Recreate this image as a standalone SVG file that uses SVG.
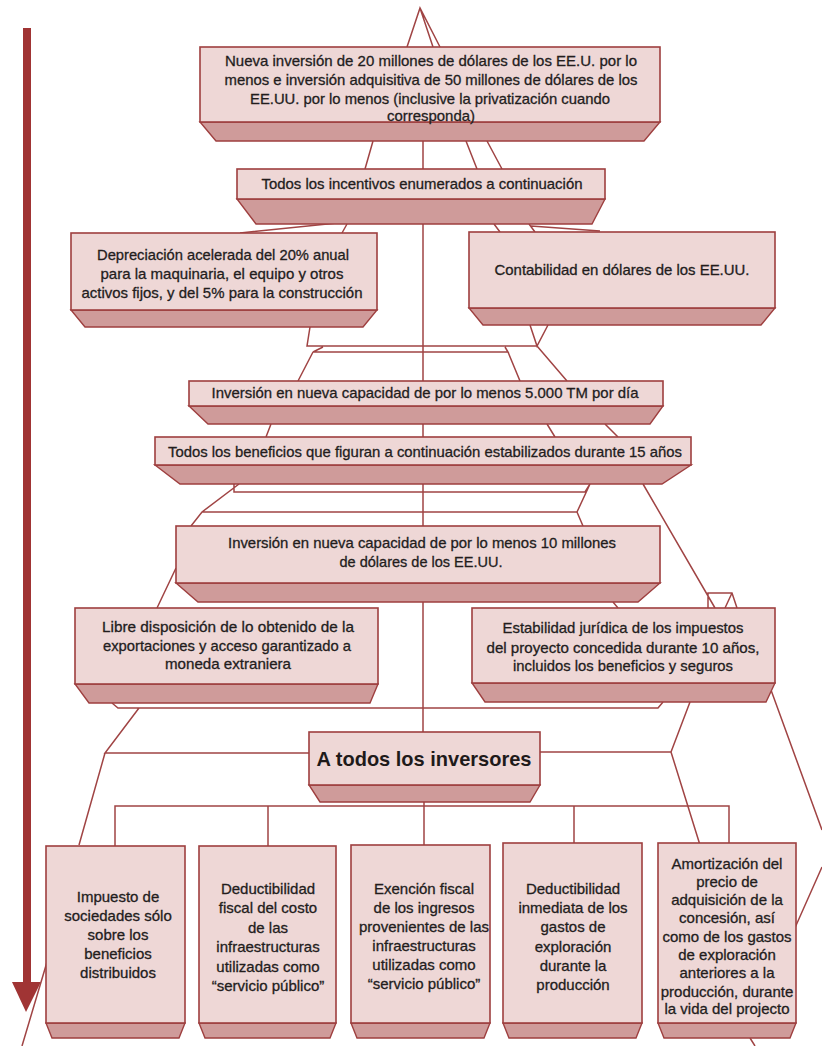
<svg xmlns="http://www.w3.org/2000/svg" width="822" height="1046" viewBox="0 0 822 1046">
<style>
.face{fill:#eed7d6;stroke:#9e3f3f;stroke-width:1.6}
.bev{fill:#cf9b9a;stroke:#9e3f3f;stroke-width:1.4}
.t{font-family:"Liberation Sans",Arial,sans-serif;font-size:15px;fill:#231d1d;stroke:#231d1d;stroke-width:0.3;text-anchor:middle}
.tb{font-family:"Liberation Sans",Arial,sans-serif;font-size:21px;font-weight:bold;fill:#1e1a1a;text-anchor:middle}
.c{fill:none;stroke:#a04444;stroke-width:1.5}
</style>
<rect width="822" height="1046" fill="#ffffff"/>
<g id="arrow">
<rect x="23" y="28" width="8" height="956" fill="#a03434"/>
<polygon points="12,982 41,982 26,1012" fill="#a03434"/>
</g>
<g id="connectors" class="c">
<path d="M407,47 L420,8 L440,47 M420,8 L433,47"/>
<path d="M373,141 L365,169 M466,141 L477,169 M487,141 L502,169"/>
<path d="M423,141 V732 M424,802 V845"/>
<path d="M347,224 L342,233 M347,222 L240,233 M494,224 L500,232 M529,224 L535,232 M531,226 L600,231"/>
<path d="M310,327 L307,346 L537,346 M530,325 L537,346 L548,325 M323,347 L313,352 L508,352 L505,347 M313,352 L298,381 M508,352 L520,381 M537,346 L567,381"/>
<path d="M271,424 L266,437 M547,424 L555,437 M605,424 L618,437"/>
<path d="M234,484 L234,492 L585,492 L590,484 M239,484 L202,512 L191,526 M202,512 L577,512 M590,484 L577,512 L583,526"/>
<path d="M643,484 L715,608 M708,608 L708,593 L732,593 L737,608 M725,608 L732,593"/>
<path d="M176,568 L157,608 M613,602 L618,608"/>
<path d="M112,703 L118,708 L658,708 L663,702 M139,708 L105,753 L309,753 M105,753 L79,845 M690,702 L671,752 L540,752 M671,752 L700,845"/>
<path d="M771,690 L822,830 M822,867 L794,930 M47,962 L22,1046 M750,1038 L755,1046"/>
<path d="M115,846 V806 H729 V843 M268,806 V846 M574,806 V843"/>
</g>
<g id="n1">
<polygon class="bev" points="200,122 660,122 644,141 216,141"/>
<rect class="face" x="200" y="47" width="460" height="75"/>
<text class="t" x="431" y="66" textLength="412" lengthAdjust="spacingAndGlyphs">Nueva inversión de 20 millones de dólares de los EE.U. por lo</text>
<text class="t" x="431" y="85" textLength="413" lengthAdjust="spacingAndGlyphs">menos e inversión adquisitiva de 50 millones de dólares de los</text>
<text class="t" x="430" y="104" textLength="360" lengthAdjust="spacingAndGlyphs">EE.UU. por lo menos (inclusive la privatización cuando</text>
<text class="t" x="431" y="121" textLength="88" lengthAdjust="spacingAndGlyphs">corresponda)</text>
</g>
<g id="n2">
<polygon class="bev" points="237,199 605,199 592,224 256,224"/>
<rect class="face" x="237" y="169" width="368" height="30"/>
<text class="t" x="422" y="189" textLength="321" lengthAdjust="spacingAndGlyphs">Todos los incentivos enumerados a continuación</text>
</g>
<g id="n3">
<polygon class="bev" points="71,310 377,310 363,327 85,327"/>
<rect class="face" x="71" y="233" width="306" height="77"/>
<text class="t" x="223" y="260" textLength="252" lengthAdjust="spacingAndGlyphs">Depreciación acelerada del 20% anual</text>
<text class="t" x="222" y="279" textLength="243" lengthAdjust="spacingAndGlyphs">para la maquinaria, el equipo y otros</text>
<text class="t" x="222" y="298" textLength="281" lengthAdjust="spacingAndGlyphs">activos fijos, y del 5% para la construcción</text>
</g>
<g id="n4">
<polygon class="bev" points="469,308 775,308 761,325 483,325"/>
<rect class="face" x="469" y="232" width="306" height="76"/>
<text class="t" x="622" y="275" textLength="255" lengthAdjust="spacingAndGlyphs">Contabilidad en dólares de los EE.UU.</text>
</g>
<g id="n5">
<polygon class="bev" points="189,406 663,406 650,424 208,424"/>
<rect class="face" x="189" y="381" width="474" height="25"/>
<text class="t" x="425" y="398" textLength="427" lengthAdjust="spacingAndGlyphs">Inversión en nueva capacidad de por lo menos 5.000 TM por día</text>
</g>
<g id="n6">
<polygon class="bev" points="155,465 691,465 662,484 180,484"/>
<rect class="face" x="155" y="437" width="536" height="28"/>
<text class="t" x="425" y="457" textLength="514" lengthAdjust="spacingAndGlyphs">Todos los beneficios que figuran a continuación estabilizados durante 15 años</text>
</g>
<g id="n7">
<polygon class="bev" points="176,583 660,583 638,602 198,602"/>
<rect class="face" x="176" y="526" width="484" height="57"/>
<text class="t" x="422" y="548" textLength="388" lengthAdjust="spacingAndGlyphs">Inversión en nueva capacidad de por lo menos 10 millones</text>
<text class="t" x="421" y="567" textLength="163" lengthAdjust="spacingAndGlyphs">de dólares de los EE.UU.</text>
</g>
<g id="n8">
<polygon class="bev" points="75,684 378,684 370,703 89,703"/>
<rect class="face" x="75" y="608" width="303" height="76"/>
<text class="t" x="228" y="632" textLength="252" lengthAdjust="spacingAndGlyphs">Libre disposición de lo obtenido de la</text>
<text class="t" x="227" y="651" textLength="248" lengthAdjust="spacingAndGlyphs">exportaciones y acceso garantizado a</text>
<text class="t" x="228" y="669" textLength="126" lengthAdjust="spacingAndGlyphs">moneda extraniera</text>
</g>
<g id="n9">
<polygon class="bev" points="472,683 775,683 766,702 485,702"/>
<rect class="face" x="472" y="608" width="303" height="75"/>
<text class="t" x="623" y="633" textLength="241" lengthAdjust="spacingAndGlyphs">Estabilidad jurídica de los impuestos</text>
<text class="t" x="623" y="653" textLength="273" lengthAdjust="spacingAndGlyphs">del proyecto concedida durante 10 años,</text>
<text class="t" x="623" y="671" textLength="220" lengthAdjust="spacingAndGlyphs">incluidos los beneficios y seguros</text>
</g>
<g id="n10">
<polygon class="bev" points="309,785 540,785 530,802 320,802"/>
<rect class="face" x="309" y="732" width="231" height="53"/>
<text class="tb" x="424" y="766" textLength="215" lengthAdjust="spacingAndGlyphs">A todos los inversores</text>
</g>
<g id="n11">
<polygon class="bev" points="46,1023 185,1023 179,1038 52,1038"/>
<rect class="face" x="46" y="846" width="139" height="177"/>
<text class="t" x="118" y="902">Impuesto de</text>
<text class="t" x="118" y="921">sociedades sólo</text>
<text class="t" x="118" y="940">sobre los</text>
<text class="t" x="118" y="959">beneficios</text>
<text class="t" x="118" y="978">distribuidos</text>
</g>
<g id="n12">
<polygon class="bev" points="199,1023 336,1023 330,1038 205,1038"/>
<rect class="face" x="199" y="846" width="137" height="177"/>
<text class="t" x="268" y="894">Deductibilidad</text>
<text class="t" x="268" y="913">fiscal del costo</text>
<text class="t" x="268" y="933">de las</text>
<text class="t" x="268" y="952">infraestructuras</text>
<text class="t" x="268" y="972">utilizadas como</text>
<text class="t" x="268" y="991">“servicio público”</text>
</g>
<g id="n13">
<polygon class="bev" points="351,1023 490,1023 484,1038 357,1038"/>
<rect class="face" x="351" y="845" width="139" height="178"/>
<text class="t" x="424" y="894">Exención fiscal</text>
<text class="t" x="424" y="913">de los ingresos</text>
<text class="t" x="424" y="932">provenientes de las</text>
<text class="t" x="424" y="951">infraestructuras</text>
<text class="t" x="424" y="970">utilizadas como</text>
<text class="t" x="424" y="989">“servicio público”</text>
</g>
<g id="n14">
<polygon class="bev" points="503,1023 642,1023 636,1038 509,1038"/>
<rect class="face" x="503" y="843" width="139" height="180"/>
<text class="t" x="573" y="894">Deductibilidad</text>
<text class="t" x="573" y="913">inmediata de los</text>
<text class="t" x="573" y="932">gastos de</text>
<text class="t" x="573" y="952">exploración</text>
<text class="t" x="573" y="971">durante la</text>
<text class="t" x="573" y="990">producción</text>
</g>
<g id="n15">
<polygon class="bev" points="658,1023 796,1023 790,1038 664,1038"/>
<rect class="face" x="658" y="843" width="138" height="180"/>
<text class="t" x="727" y="869">Amortización del</text>
<text class="t" x="727" y="887">precio de</text>
<text class="t" x="727" y="905">adquisición de la</text>
<text class="t" x="727" y="923">concesión, así</text>
<text class="t" x="727" y="942">como de los gastos</text>
<text class="t" x="727" y="960">de exploración</text>
<text class="t" x="727" y="978">anteriores a la</text>
<text class="t" x="727" y="997">producción, durante</text>
<text class="t" x="727" y="1014">la vida del projecto</text>
</g>
</svg>
